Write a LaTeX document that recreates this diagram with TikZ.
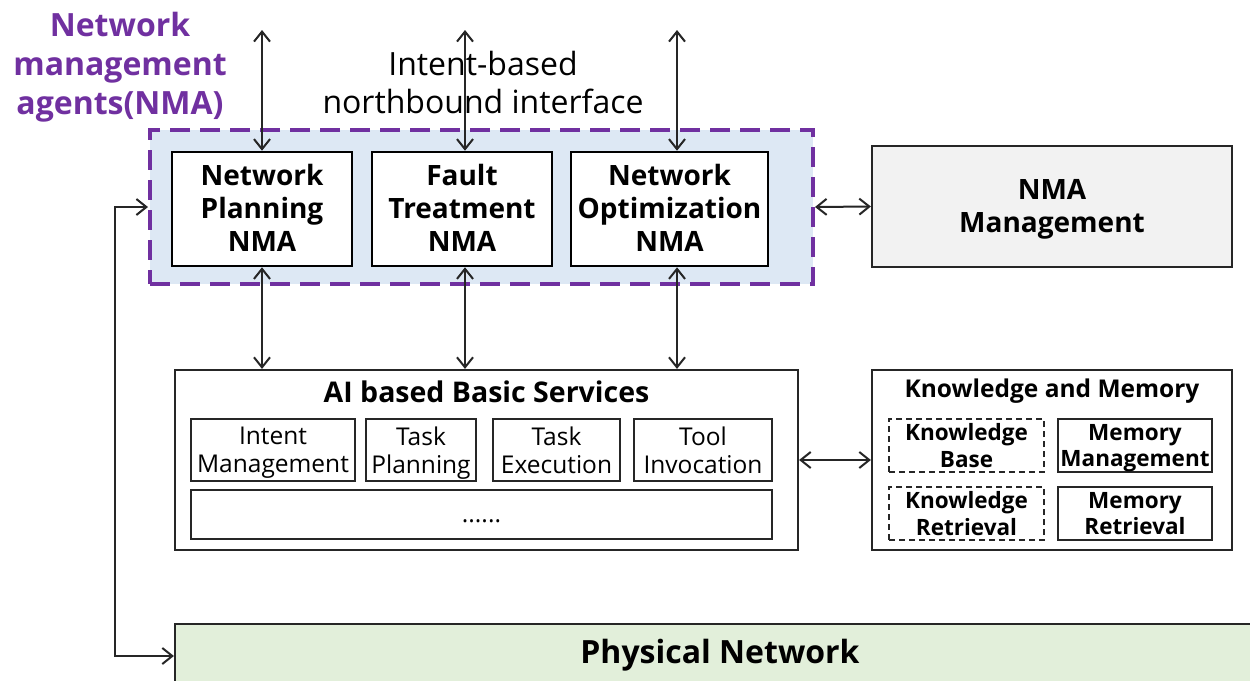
\documentclass[tikz,border=0pt]{standalone}
\usepackage{fontspec}
\setmainfont{Open Sans}
\usetikzlibrary{arrows.meta}
\definecolor{nmapurple}{HTML}{7030A0}
\definecolor{nmablue}{HTML}{DDE8F4}
\definecolor{physgreen}{HTML}{E2EFDA}
\definecolor{mgmtgray}{HTML}{F2F2F2}
\definecolor{linegray}{HTML}{262626}
\tikzset{
  agentbox/.style={draw=black, line width=2.6, fill=white, inner sep=0, align=center,
    text depth=3, font=\bfseries\fontsize{28}{33}\selectfont},
  svcbox/.style={draw=linegray, line width=2.2, fill=white, inner sep=0, align=center,
    text depth=0, font=\fontsize{24.5}{28}\selectfont},
  kmbox/.style={draw=linegray, line width=2.2, fill=white, inner sep=0, align=center,
    text depth=0, font=\bfseries\fontsize{22.5}{26.5}\selectfont},
  kmdash/.style={kmbox, dash pattern=on 6 off 4},
  bigbox/.style={draw=linegray, line width=2.2, inner sep=0},
  biarrow/.style={draw=linegray, line width=2, {Straight Barb[length=10,width=16]}-{Straight Barb[length=10,width=16]}},
}
\begin{document}
\begin{tikzpicture}[x=1pt,y=-1pt]
\clip (0,0) rectangle (1250,680);
\fill[white] (0,0) rectangle (1250,680);

% dashed NMA group
\node (nma) [draw=nmapurple, line width=4, dash pattern=on 20 off 10, fill=nmablue,
  inner sep=0, minimum width=663, minimum height=154] at (481.5,207) {};

\node (lbl) [text=nmapurple, align=center, font=\bfseries\fontsize{32}{39}\selectfont] at (120,67)
  {Network\\management\\agents(NMA)};
\node (nbi) [align=center, font=\fontsize{32}{38}\selectfont] at (483,82)
  {Intent-based\\northbound interface};

\node (p1) [agentbox, minimum width=180, minimum height=114] at (262,209) {Network\\Planning\\NMA};
\node (p2) [agentbox, minimum width=180, minimum height=114] at (462,209) {Fault\\Treatment\\NMA};
\node (p3) [agentbox, minimum width=197, minimum height=114] at (669.5,209) {Network\\Optimization\\NMA};

\node (mgmt) [bigbox, fill=mgmtgray, minimum width=360, minimum height=121, align=center,
  text depth=1, font=\bfseries\fontsize{28}{33}\selectfont] at (1052,206.5) {NMA\\Management};

% AI based basic services
\node (ai) [bigbox, fill=white, minimum width=623, minimum height=180] at (486.5,460) {};
\node (aititle) [font=\bfseries\fontsize{28.5}{30}\selectfont] at (486.5,392) {AI based Basic Services};
\node (s1) [svcbox, minimum width=164, minimum height=62] at (273,450) {Intent\\Management};
\node (s2) [svcbox, minimum width=110, minimum height=62] at (421,450) {Task\\Planning};
\node (s3) [svcbox, minimum width=127, minimum height=62] at (556.5,450) {Task\\Execution};
\node (s4) [svcbox, minimum width=138, minimum height=62] at (703,450) {Tool\\Invocation};
\node (s5) [svcbox, minimum width=581, minimum height=49, text height=15, text depth=0] at (481.5,514.5) {......};

% Knowledge and memory
\node (km) [bigbox, fill=white, minimum width=360, minimum height=180] at (1052,460) {};
\node (kmtitle) [font=\bfseries\fontsize{24.5}{27}\selectfont] at (1052,391) {Knowledge and Memory};
\node (k1) [kmdash, minimum width=155, minimum height=53] at (966.5,445.5) {Knowledge\\Base};
\node (k2) [kmbox, minimum width=154, minimum height=53] at (1135,445.5) {Memory\\Management};
\node (k3) [kmdash, minimum width=155, minimum height=53] at (966.5,513.5) {Knowledge\\Retrieval};
\node (k4) [kmbox, minimum width=154, minimum height=53] at (1135,513.5) {Memory\\Retrieval};

% physical network
\node (phys) [bigbox, fill=physgreen, minimum width=1090, minimum height=62,
  font=\bfseries\fontsize{32}{35}\selectfont] at (720,655) {Physical Network};

% northbound arrows
\coordinate (n1) at (262,30);
\coordinate (n2) at (465,30);
\coordinate (n3) at (677,30);
\draw[biarrow] (n1) -- (n1 |- p1.north);
\draw[biarrow] (n2) -- (n2 |- p2.north);
\draw[biarrow] (n3) -- (n3 |- p3.north);

% agents to services
\draw[biarrow] (n1 |- p1.south) -- (n1 |- ai.north);
\draw[biarrow] (n2 |- p2.south) -- (n2 |- ai.north);
\draw[biarrow] (n3 |- p3.south) -- (n3 |- ai.north);

% side arrows
\draw[biarrow] (nma.east) -- (mgmt.west);
\draw[biarrow] (ai.east) -- (km.west);

% feedback loop
\coordinate (fbtop) at (115,207);
\coordinate (fbbot) at (115,656);
\draw[biarrow] (nma.west) -- (fbtop) -- (fbbot) -- (fbbot -| phys.west);
\end{tikzpicture}
\end{document}
